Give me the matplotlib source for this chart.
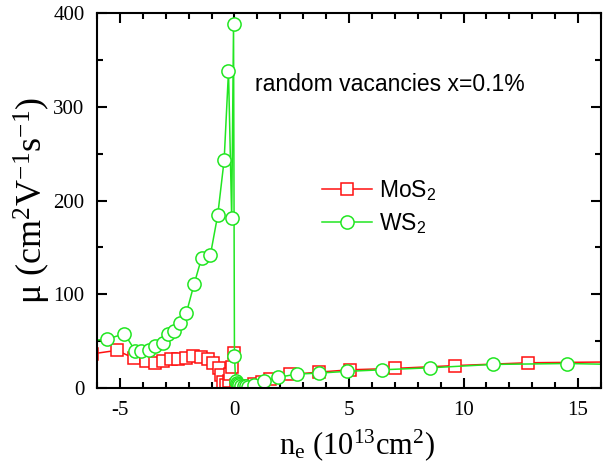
import numpy as np
import matplotlib
matplotlib.use('Agg')
import matplotlib.pyplot as plt
from matplotlib.ticker import MultipleLocator

plt.rcParams['font.family'] = 'Liberation Serif'
plt.rcParams['mathtext.fontset'] = 'custom'
plt.rcParams['mathtext.rm'] = 'Liberation Serif'
plt.rcParams['mathtext.default'] = 'regular'
plt.rcParams['axes.unicode_minus'] = False

# MoS2 mobility vs carrier density
mos2_x = [-6.2, -5.14, -4.37, -3.87, -3.49, -3.10, -2.76, -2.48, -2.13, -1.79, -1.45,
          -1.17, -0.92, -0.67, -0.58, -0.48, -0.38, -0.25, -0.18, -0.10, -0.04,
          0.05, 0.15, 0.25, 0.40, 0.60, 0.85, 1.20, 1.56, 2.43, 3.67, 5.05, 7.02,
          9.64, 12.81, 17.0]
mos2_y = [36.5, 40.2, 31.7, 29.1, 26.3, 28.8, 30.6, 31.3, 32.0, 34.1, 33.4,
          30.9, 26.3, 21.0, 14.0, 7.0, 3.0, 8.0, 15.0, 23.0, 37.0,
          3.0, 1.5, 1.0, 1.5, 2.0, 4.0, 6.5, 9.6, 14.5, 17.0, 19.5, 21.0,
          24.0, 27.0, 28.0]

# WS2 mobility vs carrier density
ws2_x = [-6.4, -5.58, -4.80, -4.34, -4.06, -3.72, -3.46, -3.14, -2.88, -2.62, -2.37,
         -2.10, -1.76, -1.43, -1.05, -0.73, -0.45, -0.26, -0.12, -0.04, 0.0,
         0.05, 0.10, 0.15, 0.22, 0.30, 0.40, 0.50, 0.60, 0.87, 1.27, 1.89, 2.72,
         3.71, 4.90, 6.43, 8.52, 11.27, 14.51, 17.5]
ws2_y = [50.5, 52.0, 58.0, 40.0, 40.0, 40.5, 45.0, 48.0, 57.6, 61.0, 69.0,
         80.0, 111.0, 139.0, 142.0, 184.5, 243.0, 338.0, 181.0, 388.0, 34.5,
         8.0, 5.0, 4.0, 3.0, 2.5, 2.0, 2.0, 1.5, 3.2, 7.5, 11.4, 14.9,
         16.0, 17.8, 19.5, 21.6, 25.2, 26.2, 24.8]

red = '#ff1010'
green = '#22e622'

fig = plt.figure(figsize=(6.04, 4.62), dpi=100)
ax = fig.add_axes([0.1606, 0.160, 0.8344, 0.812])

ax.plot(mos2_x, mos2_y, color=red, lw=1.1, marker='s', ms=8.5, mfc='white',
        mec=red, mew=1.1, label='MoS$_2$')
ax.plot(ws2_x, ws2_y, color=green, lw=1.1, marker='o', ms=9.5, mfc='white',
        mec=green, mew=1.1, label='WS$_2$')

ax.set_xlim(-6, 16)
ax.set_ylim(0, 400)
ax.xaxis.set_major_locator(MultipleLocator(5))
ax.xaxis.set_minor_locator(MultipleLocator(1))
ax.yaxis.set_major_locator(MultipleLocator(100))
ax.yaxis.set_minor_locator(MultipleLocator(50))
ax.tick_params(which='both', direction='in', top=True, right=True, width=1.5,
               labelsize=15)
ax.tick_params(which='major', length=7, pad=9)
ax.tick_params(which='minor', length=4)
for s in ax.spines.values():
    s.set_linewidth(1.5)

ax.set_xlabel('n$_e$ (10$^{13}$cm$^2$)', fontsize=22, labelpad=9)
ax.xaxis.set_label_coords(0.515, -0.105)
ax.set_ylabel('μ (cm$^2$V$^{-1}$s$^{-1}$)', fontsize=26, labelpad=0)

ax.text(0.581, 0.81, 'random vacancies x=0.1%', transform=ax.transAxes,
        fontsize=16.5, family='Liberation Sans', ha='center', va='center')

leg = ax.legend(loc='upper left', bbox_to_anchor=(0.405, 0.615), frameon=False,
                prop={'family': 'Liberation Sans', 'size': 16.5},
                handlelength=2.2, handletextpad=0.3, labelspacing=0.35)

fig.savefig('out.png', dpi=100)
